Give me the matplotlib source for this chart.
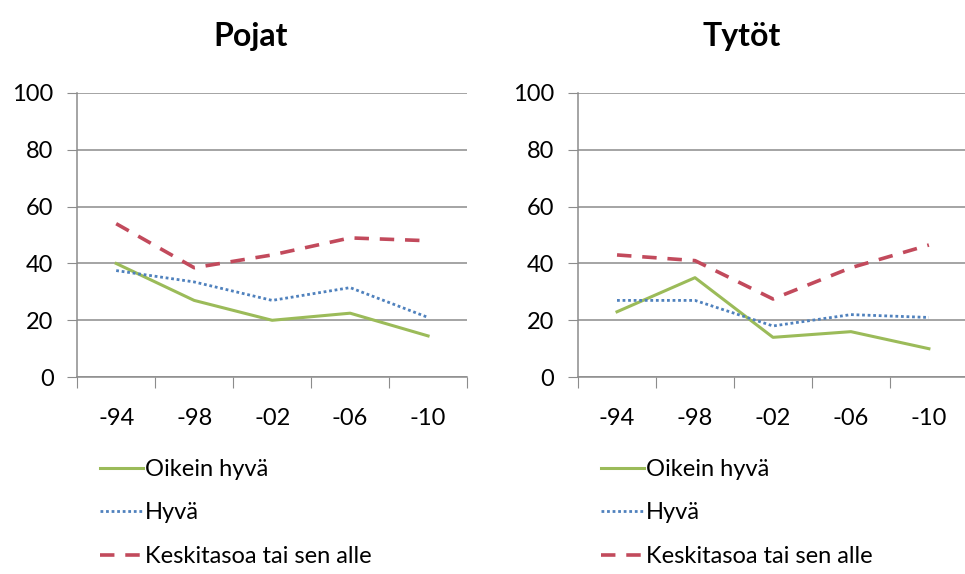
import matplotlib.pyplot as plt
import numpy as np

plt.rcParams['font.family'] = ['Lato', 'DejaVu Sans']

years = ["-94", "-98", "-02", "-06", "-10"]
series_names = ["Oikein hyvä", "Hyvä", "Keskitasoa tai sen alle"]

pojat_oikein_hyva = [40, 27, 20, 22.5, 14.5]
pojat_hyva = [37.5, 33.5, 27, 31.5, 21]
pojat_keskitasoa = [54, 38.5, 43, 49, 48]

tytot_oikein_hyva = [23, 35, 14, 16, 10]
tytot_hyva = [27, 27, 18, 22, 21]
tytot_keskitasoa = [43, 41, 27.5, 38.5, 46.5]

colors = ["#9bbb59", "#4f81bd", "#c24a5c"]
styles = [dict(ls="-", lw=2.2), dict(ls=(0, (1, 1)), lw=2.0), dict(ls=(0, (4, 3)), lw=2.6)]


def draw_panel(ax, title, data, title_x):
    x = np.arange(len(years)) + 0.5
    for values, name, c, st in zip(data, series_names, colors, styles):
        ax.plot(x, values, color=c, label=name, **st)
    ax.set_xlim(0, len(years))
    ax.set_ylim(0, 100)
    ax.set_yticks(range(0, 101, 20))
    ax.yaxis.grid(True, color="#8c8c8c", lw=1.1)
    ax.set_axisbelow(True)
    ax.set_xticks(range(len(years) + 1))
    ax.set_xticklabels([])
    ax.set_xticks(x, minor=True)
    ax.set_xticklabels(years, minor=True)
    ax.tick_params(axis="x", which="major", length=8, color="#8c8c8c")
    ax.tick_params(axis="x", which="minor", length=0, pad=22, labelsize=17)
    ax.tick_params(axis="y", length=7, color="#8c8c8c", labelsize=17, pad=10)
    for s in ["top", "right"]:
        ax.spines[s].set_visible(False)
    for s in ["left", "bottom"]:
        ax.spines[s].set_color("#8c8c8c")
        ax.spines[s].set_linewidth(1.1)
    ax.set_title(title, fontsize=23, fontweight="bold", pad=34, x=title_x)
    ax.legend(loc="upper left", bbox_to_anchor=(0.035, -0.255), frameon=False,
              fontsize=17, handlelength=1.8, handletextpad=0.1,
              labelspacing=0.95, borderaxespad=0)


fig = plt.figure(figsize=(9.65, 5.74), dpi=100)
ax1 = fig.add_axes([0.080, 0.343, 0.404, 0.495])
ax2 = fig.add_axes([0.599, 0.343, 0.404, 0.495])

draw_panel(ax1, "Pojat", [pojat_oikein_hyva, pojat_hyva, pojat_keskitasoa], 0.445)
draw_panel(ax2, "Tytöt", [tytot_oikein_hyva, tytot_hyva, tytot_keskitasoa], 0.42)

fig.savefig("out.png", dpi=100)
